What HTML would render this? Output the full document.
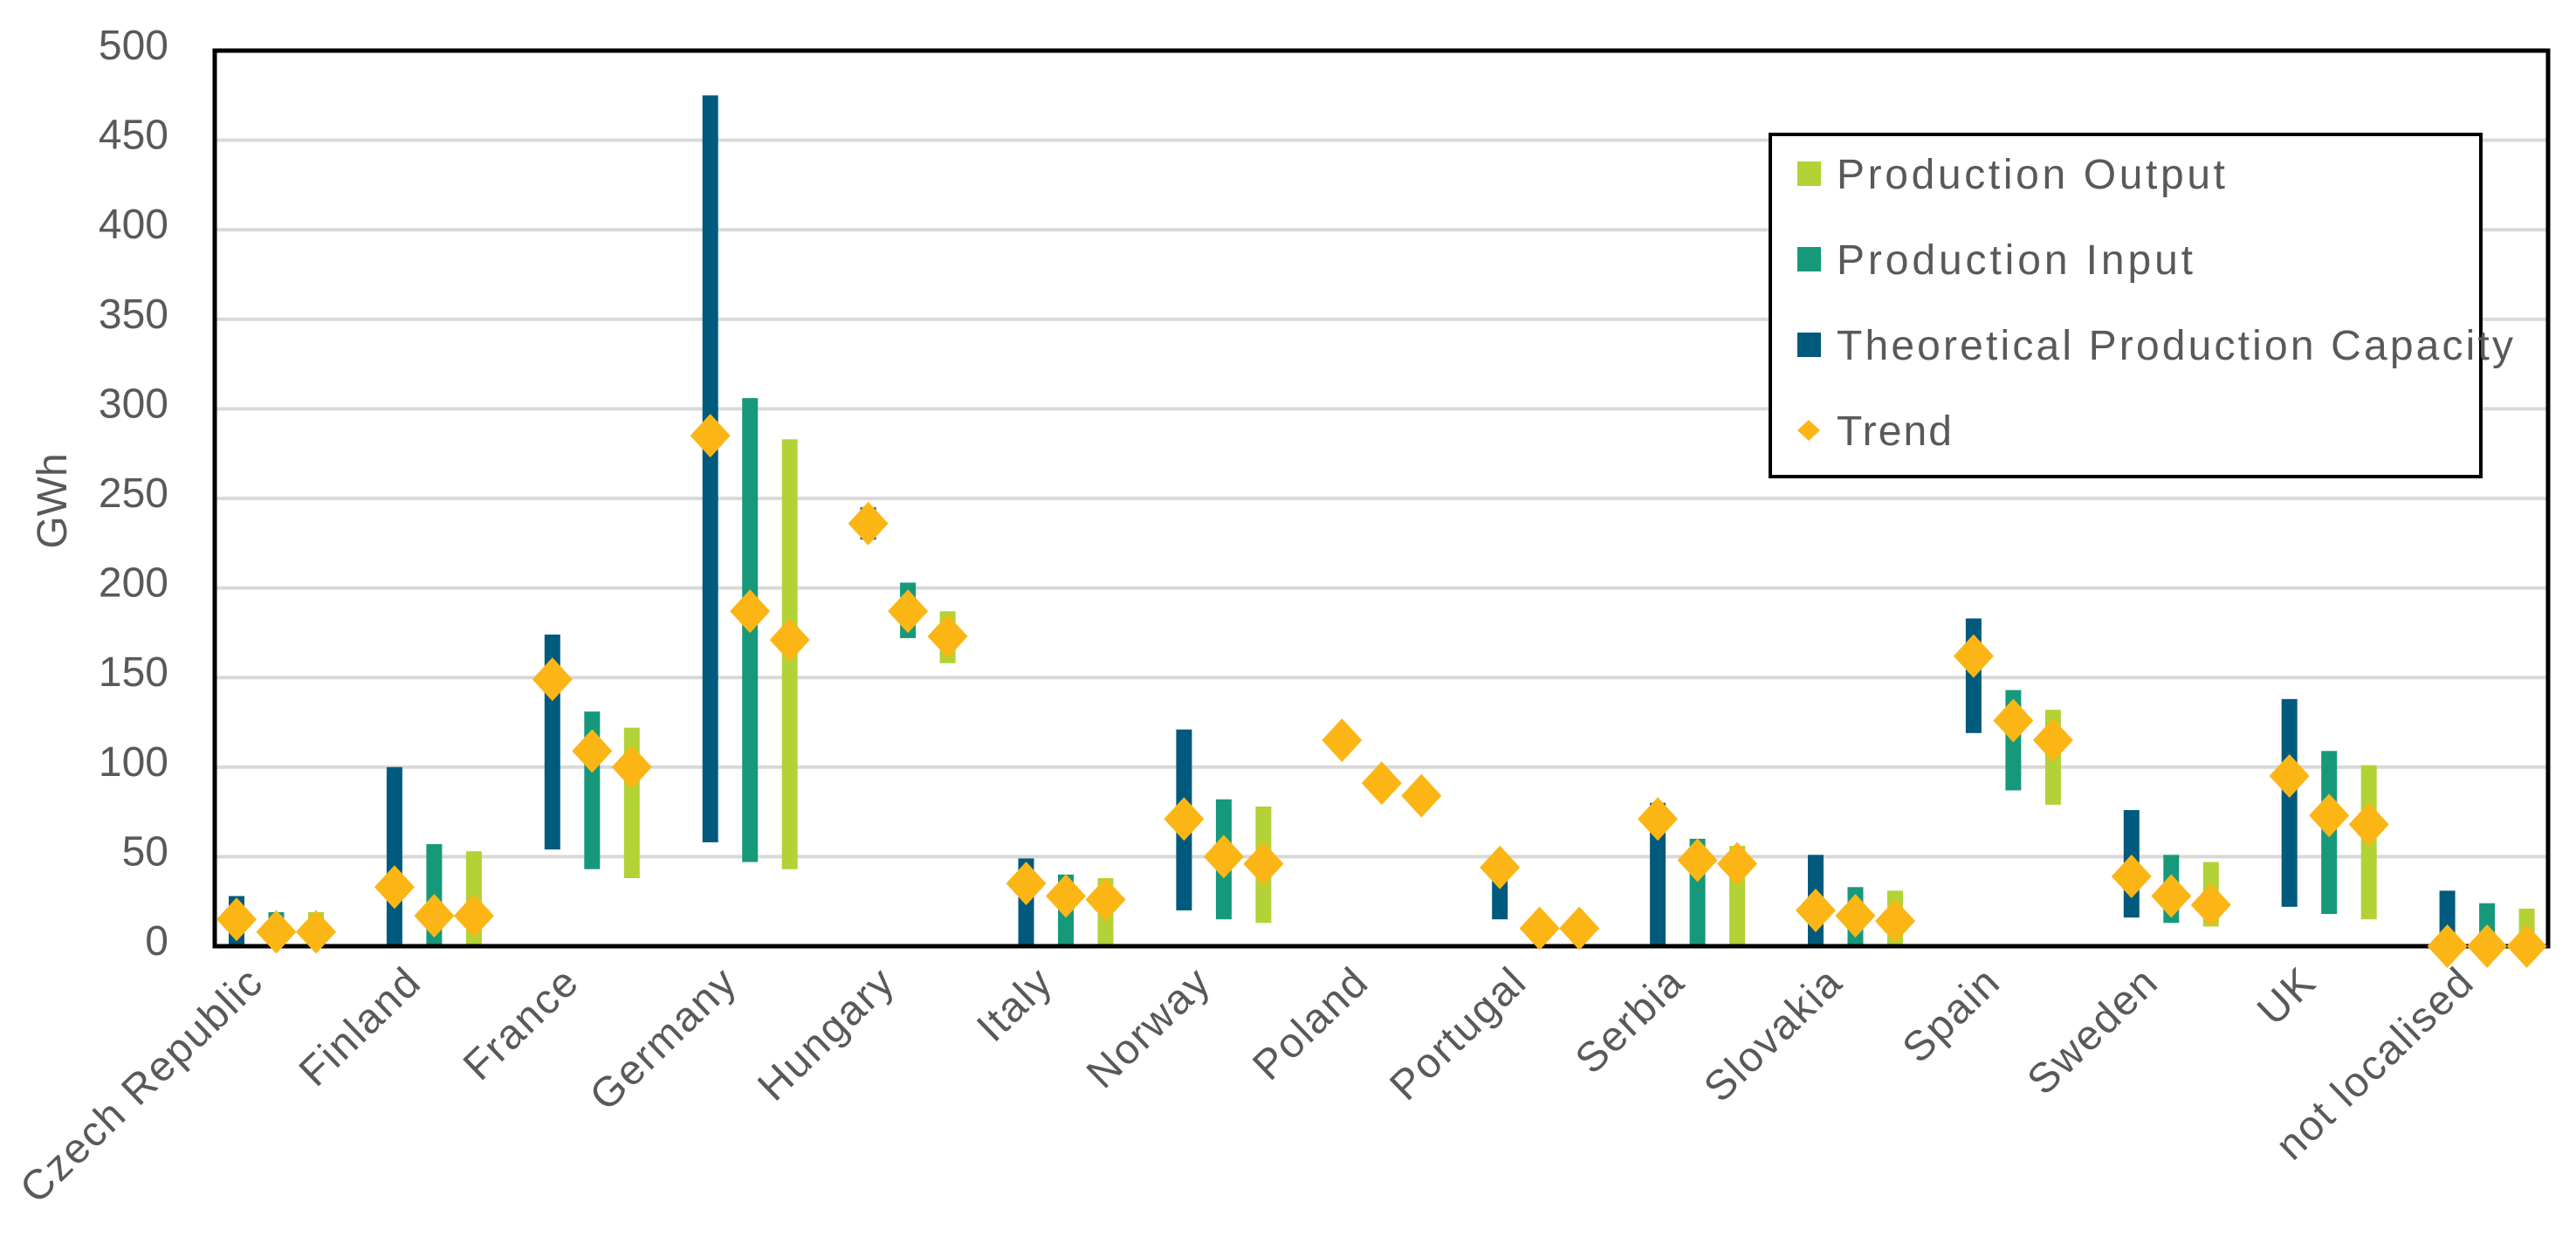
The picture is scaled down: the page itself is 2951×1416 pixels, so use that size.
<!DOCTYPE html>
<html><head><meta charset="utf-8"><style>
html,body{margin:0;padding:0;background:#fff;}
svg{display:block;font-family:"Liberation Sans","DejaVu Sans",sans-serif;}
</style></head><body>
<svg id="chart" width="2951" height="1416" viewBox="0 0 2951 1416" xmlns="http://www.w3.org/2000/svg"></svg>
<script>
const categories=["Czech Republic","Finland","France","Germany","Hungary","Italy","Norway","Poland","Portugal","Serbia","Slovakia","Spain","Sweden","UK","not localised"];
const capLow=[0,0,54,58,227,0,20,null,15,0,0,119,16,22,0];
const capHigh=[28,100,174,475,245,49,121,null,44,80,51,183,76,138,31];
const inLow=[0,0,43,47,172,0,15,null,null,0,0,87,13,18,0];
const inHigh=[19,57,131,306,203,40,82,null,null,60,33,143,51,109,24];
const outLow=[0,0,38,43,158,0,13,null,null,0,0,79,11,15,0];
const outHigh=[19,53,122,283,187,38,78,null,null,56,31,132,47,101,21];
const trendCap=[15,33,149,285,236,35,71,115,44,71,20,162,39,95,0];
const trendIn=[8,17,109,187,187,28,50,91,10,48,17,126,28,73,0];
const trendOut=[8,17,100,171,173,26,46,84,10,46,14,115,23,68,0];
const yTicks=[0,50,100,150,200,250,300,350,400,450,500];

const NS="http://www.w3.org/2000/svg";
const svg=document.getElementById('chart');
const L=246,R=2919,T=58,B=1084;
const y=v=>B-(v/500)*(B-T);
const x=(i,k)=>271+i*180.9+k*45.5;
function el(tag,attrs,parent){const e=document.createElementNS(NS,tag);for(const a in attrs)e.setAttribute(a,attrs[a]);(parent||svg).appendChild(e);return e;}

yTicks.forEach(v=>{
  if(v>0&&v<500){const g=el('line',{x1:L,x2:R,y1:y(v),y2:y(v),stroke:'#d9d9d9','stroke-width':4});
  
  }
  const t=el('text',{x:193,y:y(v)+10,'text-anchor':'end','font-size':48,fill:'#595959'});
  t.textContent=v;
  
  
});
const yt=el('text',{x:0,y:0,transform:'translate(76,574) rotate(-90)','text-anchor':'middle','font-size':48,fill:'#595959'});
yt.textContent='GWh';



const colors=['#005a7d','#16997a','#b2d235'];
const series=[[capLow,capHigh],[inLow,inHigh],[outLow,outHigh]];
const trends=[trendCap,trendIn,trendOut];
categories.forEach((c,i)=>{
  series.forEach((s,k)=>{
    const lo=s[0][i],hi=s[1][i];
    if(lo===null||hi===null)return;
    const r=el('rect',{x:x(i,k)-9,y:y(hi),width:18,height:y(lo)-y(hi),fill:colors[k]});
    
    
  });
});
const fr=el('rect',{x:L,y:T,width:R-L,height:B-T,fill:'none',stroke:'#000','stroke-width':5});


categories.forEach((c,i)=>{
  trends.forEach((tr,k)=>{
    const cx=x(i,k),cy=y(tr[i]);
    const d=el('polygon',{points:`${cx-23},${cy} ${cx},${cy-25} ${cx+23},${cy} ${cx},${cy+25}`,fill:'#fbb616'});
    
    
  });
  const cx=x(i,1)-12;
  const t=el('text',{x:0,y:0,transform:`translate(${cx},1128) rotate(-44)`,'text-anchor':'end','font-size':48,fill:'#595959','letter-spacing':2});
  t.textContent=c;
  
  
});
const lg=el('g',{});


el('rect',{x:2028,y:154,width:814,height:392,fill:'#fff',stroke:'#000','stroke-width':4},lg);
const lnames=['Production Output','Production Input','Theoretical Production Capacity','Trend'];
const lcol=['#b2d235','#16997a','#005a7d','#fbb616'];
const lw=[445,408,775,132];
lnames.forEach((n,j)=>{
  const cy=199+j*98;
  let m;
  if(j<3)m=el('rect',{x:2059,y:cy-14,width:27,height:28,fill:lcol[j]},lg);
  else m=el('polygon',{points:`${2059},${cy} ${2072},${cy-12} ${2085},${cy} ${2072},${cy+12}`,fill:lcol[j]},lg);
  
  
  const t=el('text',{x:2104,y:cy+17,'font-size':48,fill:'#595959',textLength:lw[j],lengthAdjust:'spacing'},lg);
  t.textContent=n;
  
  
});
</script>
</body></html>
